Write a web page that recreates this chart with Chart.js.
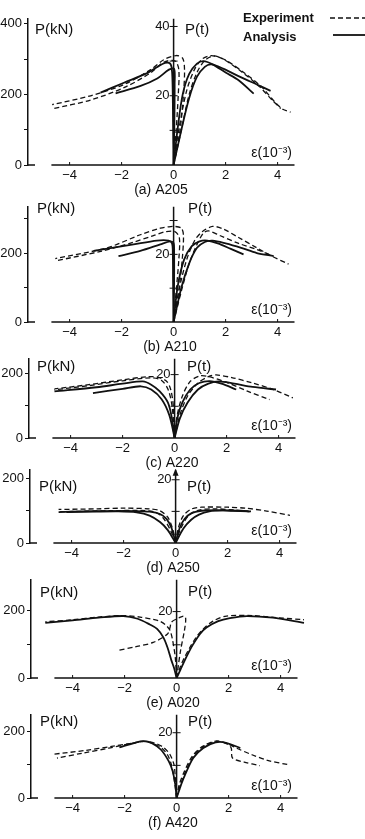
<!DOCTYPE html>
<html>
<head>
<meta charset="utf-8">
<script src="https://cdn.jsdelivr.net/npm/chart.js@4.4.0/dist/chart.umd.min.js"></script>
<style>
	html, body { margin: 0; padding: 0; background: #fff; }
	body { width: 365px; height: 839px; position: relative; overflow: hidden; }
	.panel { position: absolute; left: 0; width: 365px; }
</style>
</head>
<body>
<div class="panel" id="wrapA"><canvas id="chartA"></canvas></div>
<div class="panel" id="wrapB"><canvas id="chartB"></canvas></div>
<div class="panel" id="wrapC"><canvas id="chartC"></canvas></div>
<div class="panel" id="wrapD"><canvas id="chartD"></canvas></div>
<div class="panel" id="wrapE"><canvas id="chartE"></canvas></div>
<div class="panel" id="wrapF"><canvas id="chartF"></canvas></div>
<script>
// Деления по оси деформаций (10^-3) и по оси P
const strainTicks = [-4, -2, 0, 2, 4];
const loadTicks = [0, 100, 200, 300, 400];
const loadLabels = [0, 200, 400];
const tonTicks = [10, 20, 30, 40];
const tonLabels = [20, 40];

// Кривые: [деформация, P(kN)]
// (a) A205
const a205Exp1 = [[0, 0], [0.25, 100], [0.38, 200], [0.42, 270], [0.35, 302], [0.1, 310], [-0.38, 298], [-0.88, 270], [-1.91, 228], [-3.19, 196], [-4.67, 171]];
const a205Exp2 = [[0, 0], [0.1, 100], [0.18, 200], [0.2, 270], [0.05, 295], [-0.38, 291], [-0.88, 261], [-1.91, 219], [-3.19, 184], [-4.67, 159]];
const a205Exp3 = [[0, 0], [0.2, 100], [0.5, 210], [0.8, 270], [1.1, 300], [1.45, 310], [1.9, 300], [2.6, 265], [3.3, 222], [3.8, 183], [4.12, 160]];
const a205Exp4 = [[0, 0], [0.3, 100], [0.6, 200], [0.9, 262], [1.2, 296], [1.55, 309], [2.0, 297], [2.7, 262], [3.4, 220], [3.9, 178], [4.2, 158], [4.5, 150]];
const a205Ana1 = [[0, 0], [-0.02, 120], [-0.04, 230], [-0.08, 278], [-0.18, 289], [-0.43, 286], [-1.0, 261], [-1.91, 233], [-2.81, 205]];
const a205Ana2 = [[0, 0], [0.03, 120], [0.04, 230], [0.02, 272], [-0.18, 270], [-0.63, 245], [-1.27, 224], [-2.23, 203]];
const a205Ana3 = [[0, 0], [0.15, 100], [0.35, 200], [0.6, 258], [0.9, 287], [1.15, 294], [1.5, 285], [2.0, 262], [2.5, 240], [3.08, 202]];
const a205Ana4 = [[0, 0], [0.3, 100], [0.6, 190], [0.9, 250], [1.2, 278], [1.45, 285], [1.9, 273], [2.6, 248], [3.2, 228], [3.73, 210]];

// (b) A210
const a210Exp1 = [[0, 0], [0.2, 90], [0.33, 180], [0.38, 250], [0.3, 272], [0.05, 277], [-0.19, 276], [-0.51, 272], [-1.28, 253], [-2.56, 215], [-4.55, 184]];
const a210Exp2 = [[0, 0], [0.1, 90], [0.2, 180], [0.22, 245], [0.05, 262], [-0.3, 262], [-0.8, 250], [-1.6, 230], [-2.8, 205], [-4.55, 177]];
const a210Exp3 = [[0, 0], [0.2, 90], [0.5, 180], [0.8, 235], [1.1, 262], [1.5, 277], [1.9, 270], [2.5, 245], [3.2, 215], [3.8, 190], [4.42, 168]];
const a210Exp4 = [[0, 0], [0.3, 90], [0.6, 170], [0.9, 225], [1.15, 258], [1.35, 264], [1.8, 250], [2.5, 228], [3.2, 210], [3.7, 195]];
const a210Ana1 = [[0, 0], [-0.02, 120], [-0.03, 200], [-0.06, 228], [-0.19, 236], [-0.64, 236], [-1.54, 225], [-3.08, 206]];
const a210Ana2 = [[0, 0], [0.02, 120], [0.02, 200], [0, 229], [-0.13, 234], [-0.51, 225], [-1.28, 206], [-2.12, 191]];
const a210Ana3 = [[0, 0], [0.15, 100], [0.4, 180], [0.7, 220], [1.0, 234], [1.3, 236], [1.7, 228], [2.2, 212], [2.69, 196]];
const a210Ana4 = [[0, 0], [0.3, 100], [0.6, 170], [0.9, 215], [1.2, 232], [1.5, 236], [2.0, 228], [2.6, 215], [3.2, 200], [3.85, 191]];

// (c) A220
const a220Exp1 = [[0, 0], [-0.05, 100], [-0.15, 150], [-0.3, 175], [-0.6, 187], [-1.0, 190], [-2.0, 180], [-3.3, 165], [-4.62, 152]];
const a220Exp2 = [[0, 0], [-0.1, 100], [-0.25, 150], [-0.5, 178], [-0.9, 186], [-2.0, 177], [-3.3, 162], [-4.62, 149]];
const a220Exp3 = [[0, 0], [0.1, 70], [0.3, 130], [0.6, 175], [0.96, 192], [1.3, 190], [2.0, 172], [2.8, 145], [3.65, 119]];
const a220Exp4 = [[0, 0], [0.2, 70], [0.5, 130], [0.9, 170], [1.3, 190], [1.6, 195], [2.2, 187], [3.0, 170], [3.8, 150], [4.55, 124]];
const a220Ana1 = [[0, 0], [-0.1, 60], [-0.26, 110], [-0.58, 145], [-0.9, 165], [-1.22, 175], [-2.0, 168], [-3.0, 157], [-4.62, 144]];
const a220Ana2 = [[0, 0], [-0.2, 70], [-0.5, 120], [-0.9, 150], [-1.3, 160], [-2.0, 152], [-3.14, 139]];
const a220Ana3 = [[0, 0], [0.1, 60], [0.3, 110], [0.6, 150], [0.95, 170], [1.35, 176], [1.8, 168], [2.37, 150]];
const a220Ana4 = [[0, 0], [0.2, 60], [0.5, 110], [0.9, 150], [1.3, 168], [1.7, 175], [2.3, 168], [3.0, 158], [3.9, 150]];

// (d) A250
const a250Exp1 = [[0, 0], [-0.1, 40], [-0.3, 80], [-0.6, 100], [-1.0, 106], [-2.0, 108], [-3.0, 106], [-4.5, 104]];
const a250Exp2 = [[0, 0], [-0.2, 40], [-0.5, 80], [-0.8, 96], [-1.3, 101], [-2.5, 100], [-4.5, 97]];
const a250Exp3 = [[0, 0], [0.1, 45], [0.3, 85], [0.6, 105], [1.0, 111], [2.0, 111], [2.7, 108], [3.5, 99], [4.4, 86]];
const a250Exp4 = [[0, 0], [0.2, 45], [0.5, 85], [0.9, 102], [1.5, 106], [2.3, 102], [2.9, 96]];
const a250Ana1 = [[0, 0], [-0.3, 40], [-0.6, 65], [-1.0, 85], [-1.5, 95], [-2.2, 98], [-3.2, 97], [-4.2, 96]];
const a250Ana2 = [[0, 0], [-0.15, 45], [-0.35, 75], [-0.6, 90], [-1.0, 97], [-1.6, 99], [-2.5, 99], [-3.5, 98], [-4.5, 96]];
const a250Ana3 = [[0, 0], [0.15, 45], [0.35, 75], [0.6, 92], [1.0, 100], [1.5, 102], [2.2, 100], [2.8, 98]];
const a250Ana4 = [[0, 0], [0.3, 45], [0.6, 72], [0.9, 88], [1.3, 98], [1.8, 101], [2.5, 100], [2.9, 98]];

// (e) A020
const a020Exp1 = [[0, 0], [-0.05, 60], [-0.15, 110], [-0.25, 140], [-0.4, 155], [-0.65, 168], [-0.9, 173], [-1.4, 180], [-2.05, 184], [-3.0, 180], [-4.0, 172], [-5.05, 166]];
const a020Exp2 = [[0, 0], [0.15, 35], [0.3, 60], [0.51, 90], [0.75, 120], [1.03, 145], [1.4, 168], [1.92, 183], [2.95, 184], [3.9, 178], [4.9, 172]];
const a020Exp3 = [[0, 0], [0.15, 80], [0.3, 140], [0.35, 175], [0.28, 183], [0.1, 178], [-0.2, 165], [-0.25, 150], [-0.35, 130], [-0.9, 105], [-1.6, 92], [-2.3, 81]];
const a020Ana1 = [[0, 0], [-0.1, 30], [-0.2, 52], [-0.35, 90], [-0.51, 120], [-0.75, 145], [-1.03, 158], [-1.5, 175], [-2.05, 183], [-3.0, 178], [-4.0, 170], [-5.05, 163]];
const a020Ana2 = [[0, 0], [0.15, 25], [0.3, 50], [0.46, 75], [0.64, 100], [0.9, 130], [1.15, 149], [1.6, 168], [2.05, 177], [2.7, 183], [3.7, 178], [4.9, 163]];

// (f) A420
const a420Exp1 = [[0, 0], [-0.05, 60], [-0.1, 100], [-0.25, 130], [-0.5, 152], [-0.85, 165], [-1.2, 170], [-1.6, 166], [-2.5, 155], [-3.5, 143], [-4.8, 131]];
const a420Exp2 = [[0, 0], [-0.1, 60], [-0.2, 100], [-0.35, 130], [-0.6, 152], [-0.95, 165], [-1.3, 170], [-1.8, 163], [-2.6, 150], [-3.6, 135], [-4.6, 120]];
const a420Exp3 = [[0, 0], [0.1, 40], [0.3, 80], [0.6, 125], [1.0, 155], [1.5, 171], [1.9, 165], [2.3, 150], [2.9, 130], [3.5, 113], [4.3, 100]];
const a420Exp4 = [[0, 0], [0.15, 40], [0.35, 80], [0.65, 125], [1.05, 155], [1.55, 170], [1.95, 162], [2.1, 150], [2.15, 120], [2.6, 108], [3.2, 97]];
const a420Ana1 = [[0, 0], [-0.05, 40], [-0.15, 80], [-0.3, 110], [-0.6, 145], [-0.95, 165], [-1.28, 171], [-1.6, 166], [-2.2, 152]];
const a420Ana2 = [[0, 0], [0.15, 35], [0.3, 65], [0.64, 120], [1.03, 150], [1.5, 167], [1.9, 166], [2.45, 150]];

Chart.defaults.font.family = "'Liberation Sans', Arial, sans-serif";
Chart.defaults.color = '#111';

const INK = '#111';
const PX_PER_STRAIN = 26;
const X_MIN = -5.6;
const X_MAX = 5.0;
const AXIS_H = 36;

// Расположение панелей (координаты страницы)
const panels = [
	{ canvas: 'chartA', wrap: 'wrapA', chartTop: 17, zero: 165, yMax: 414, left: 28, caption: '(a) A205', capX: 161,
		pkn: [35, 30], pt: [185, 30], legend: true,
		exp: [a205Exp1, a205Exp2, a205Exp3, a205Exp4], ana: [a205Ana1, a205Ana2, a205Ana3, a205Ana4] },
	{ canvas: 'chartB', wrap: 'wrapB', chartTop: 205, zero: 322, yMax: 334, left: 28, caption: '(b) A210', capX: 170,
		pkn: [37, 209], pt: [188, 209],
		exp: [a210Exp1, a210Exp2, a210Exp3, a210Exp4], ana: [a210Ana1, a210Ana2, a210Ana3, a210Ana4] },
	{ canvas: 'chartC', wrap: 'wrapC', chartTop: 357, zero: 438, yMax: 245, left: 29, caption: '(c) A220', capX: 172,
		pkn: [37, 367], pt: [187, 367],
		exp: [a220Exp1, a220Exp2, a220Exp3, a220Exp4], ana: [a220Ana1, a220Ana2, a220Ana3, a220Ana4] },
	{ canvas: 'chartD', wrap: 'wrapD', chartTop: 468, zero: 543, yMax: 227, left: 30, caption: '(d) A250', capX: 173,
		pkn: [39, 487], pt: [187, 487], arrow: true,
		exp: [a250Exp1, a250Exp2, a250Exp3, a250Exp4], ana: [a250Ana1, a250Ana2, a250Ana3, a250Ana4] },
	{ canvas: 'chartE', wrap: 'wrapE', chartTop: 578, zero: 678, yMax: 290, left: 31, caption: '(e) A020', capX: 173,
		pkn: [40, 593], pt: [188, 592],
		exp: [a020Exp1, a020Exp2, a020Exp3], ana: [a020Ana1, a020Ana2] },
	{ canvas: 'chartF', wrap: 'wrapF', chartTop: 713, zero: 798, yMax: 250, left: 31, caption: '(f) A420', capX: 173,
		pkn: [40, 722], pt: [188, 722],
		exp: [a420Exp1, a420Exp2, a420Exp3, a420Exp4], ana: [a420Ana1, a420Ana2] }
];

function toPoints(curve) {
	return curve.map(([e, p]) => ({ x: e, y: p }));
}

function minus(v) {
	return v < 0 ? '\u2212' + Math.abs(v) : String(v);
}

// Оси по центру, подписи, легенда
function figurePlugin(p, top) {
	return {
		id: 'figure',
		beforeDatasetsDraw(chart) {
			const { ctx, chartArea } = chart;
			const x = chart.scales.x;
			const y = chart.scales.y;
			const x0 = x.getPixelForValue(0);
			const yb = y.getPixelForValue(0);

			ctx.save();
			ctx.strokeStyle = INK;
			ctx.fillStyle = INK;
			ctx.lineWidth = 1.5;
			ctx.beginPath();
			ctx.moveTo(x.getPixelForValue(-4.7), yb);
			ctx.lineTo(x.getPixelForValue(4.65), yb);
			ctx.moveTo(chartArea.left, yb);
			ctx.lineTo(chartArea.left + 7, yb);
			ctx.moveTo(x0, yb);
			ctx.lineTo(x0, chartArea.top);
			ctx.stroke();

			if (p.arrow) {
				ctx.beginPath();
				ctx.moveTo(x0, chartArea.top - 1);
				ctx.lineTo(x0 - 3, chartArea.top + 6);
				ctx.lineTo(x0 + 3, chartArea.top + 6);
				ctx.closePath();
				ctx.fill();
			}

			ctx.lineWidth = 1;
			ctx.beginPath();
			strainTicks.forEach(v => {
				const px = x.getPixelForValue(v);
				ctx.moveTo(px, yb);
				ctx.lineTo(px, yb - 3);
			});
			tonTicks.forEach(t => {
				const kN = t * 9.80665;
				if (kN > p.yMax) return;
				const py = y.getPixelForValue(kN);
				ctx.moveTo(x0 - 4, py);
				ctx.lineTo(x0 + 4, py);
			});
			ctx.stroke();

			ctx.textBaseline = 'middle';
			ctx.font = '13px "Liberation Sans", Arial, sans-serif';
			ctx.textAlign = 'right';
			tonLabels.forEach(t => {
				const kN = t * 9.80665;
				if (kN > p.yMax) return;
				ctx.fillText(String(t), x0 - 4, y.getPixelForValue(kN));
			});

			ctx.font = '15px "Liberation Sans", Arial, sans-serif';
			ctx.textAlign = 'left';
			ctx.fillText('P(kN)', p.pkn[0], p.pkn[1] - top);
			ctx.fillText('P(t)', p.pt[0], p.pt[1] - top);

			ctx.textAlign = 'right';
			ctx.font = '14px "Liberation Sans", Arial, sans-serif';
			ctx.fillText('\u03b5(10\u207b\u00b3)', 292, yb - 12);

			ctx.textAlign = 'center';
			ctx.fillText(p.caption, p.capX, yb + 25);

			if (p.legend) {
				ctx.font = 'bold 13px "Liberation Sans", Arial, sans-serif';
				ctx.textAlign = 'left';
				ctx.fillText('Experiment', 243, 18 - top);
				ctx.fillText('Analysis', 243, 37 - top);
				ctx.lineWidth = 1.4;
				ctx.setLineDash([5, 3]);
				ctx.beginPath();
				ctx.moveTo(330, 18 - top);
				ctx.lineTo(365, 18 - top);
				ctx.stroke();
				ctx.setLineDash([]);
				ctx.lineWidth = 1.8;
				ctx.beginPath();
				ctx.moveTo(333, 35 - top);
				ctx.lineTo(365, 35 - top);
				ctx.stroke();
			}
			ctx.restore();
		}
	};
}

window.addEventListener('load', () => {
	panels.forEach(p => {
		const top = p.chartTop - 8;
		const height = p.zero - top + AXIS_H;
		const wrap = document.getElementById(p.wrap);
		wrap.style.top = top + 'px';
		wrap.style.height = height + 'px';

		const datasets = [];
		p.exp.forEach(c => datasets.push({
			data: toPoints(c),
			showLine: true,
			borderColor: INK,
			borderWidth: 1.3,
			borderDash: [5, 3],
			pointRadius: 0,
			tension: 0.3
		}));
		p.ana.forEach(c => datasets.push({
			data: toPoints(c),
			showLine: true,
			borderColor: INK,
			borderWidth: 1.8,
			pointRadius: 0,
			tension: 0.3
		}));

		const options = {
			responsive: true,
			maintainAspectRatio: false,
			animation: false,
			events: [],
			layout: {
				padding: {
					top: 8,
					left: 0,
					bottom: 0,
					right: 365 - (p.left + (X_MAX - X_MIN) * PX_PER_STRAIN)
				}
			},
			plugins: {
				legend: { display: false },
				tooltip: { enabled: false }
			},
			scales: {
				x: {
					type: 'linear',
					min: X_MIN,
					max: X_MAX,
					afterBuildTicks: s => { s.ticks = strainTicks.map(v => ({ value: v })); },
					afterFit: s => { s.height = AXIS_H; },
					grid: { display: false, drawTicks: false },
					border: { display: false },
					ticks: {
						padding: 3,
						maxRotation: 0,
						autoSkip: false,
						color: INK,
						font: { size: 13 },
						callback: v => minus(v)
					}
				},
				y: {
					type: 'linear',
					min: 0,
					max: p.yMax,
					afterBuildTicks: s => {
						s.ticks = loadTicks.filter(v => v <= p.yMax).map(v => ({ value: v }));
					},
					afterFit: s => { s.width = p.left; },
					grid: { drawOnChartArea: false, tickLength: 4, color: INK, lineWidth: 1 },
					border: { display: true, color: INK, width: 1.5 },
					ticks: {
						padding: 2,
						color: INK,
						font: { size: 13 },
						callback: v => loadLabels.includes(v) ? String(v) : ''
					}
				}
			}
		};

		new Chart(document.getElementById(p.canvas), {
			type: 'scatter',
			data: { datasets: datasets },
			options: options,
			plugins: [figurePlugin(p, top)]
		});
	});
});
</script>
</body>
</html>
